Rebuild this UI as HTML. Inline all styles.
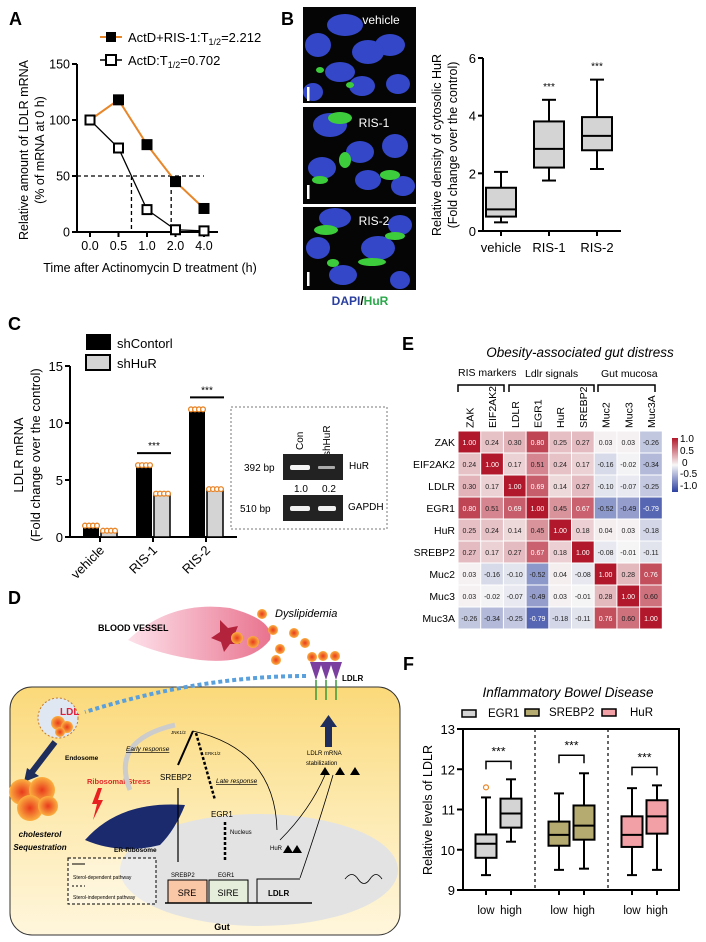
<!DOCTYPE html>
<html><head><meta charset="utf-8"><style>
html,body{margin:0;padding:0;background:#fff;}
svg{display:block;font-family:"Liberation Sans",Arial,sans-serif;}
</style></head><body>
<svg id="fig" width="706" height="942" viewBox="0 0 706 942" xmlns="http://www.w3.org/2000/svg">
<defs>
<linearGradient id="cellg" x1="0" y1="0" x2="0" y2="1"><stop offset="0" stop-color="#fbd97a"/><stop offset="0.5" stop-color="#fdeab0"/><stop offset="1" stop-color="#fff6dc"/></linearGradient>
<radialGradient id="ball" cx="0.5" cy="0.5" r="0.5"><stop offset="0" stop-color="#e83a1c"/><stop offset="1" stop-color="#fbb040"/></radialGradient>
<linearGradient id="vessel" x1="0" y1="0" x2="1" y2="0"><stop offset="0" stop-color="#fde1ea"/><stop offset="1" stop-color="#e9738f"/></linearGradient>
<linearGradient id="cb" x1="0" y1="0" x2="0" y2="1"><stop offset="0" stop-color="#b2182b"/><stop offset="0.5" stop-color="#f7f7f7"/><stop offset="1" stop-color="#2c40a0"/></linearGradient>
</defs>
<g font-weight="bold" font-size="18">
<text x="9" y="25">A</text>
<text x="281" y="25">B</text>
<text x="8" y="330">C</text>
<text x="402" y="350">E</text>
<text x="8" y="604">D</text>
<text x="403" y="670">F</text>
</g>

<g id="panelA">
<line x1="100" y1="37" x2="122" y2="37" stroke="#e8862a" stroke-width="2"/>
<rect x="106" y="32" width="10" height="10" fill="#000"/>
<text x="128" y="42" font-size="13">ActD+RIS-1:T<tspan font-size="9" dy="3">1/2</tspan><tspan dy="-3">=2.212</tspan></text>
<line x1="100" y1="60" x2="122" y2="60" stroke="#000" stroke-width="1.5"/>
<rect x="106" y="55" width="10" height="10" fill="#fff" stroke="#000" stroke-width="2"/>
<text x="128" y="65" font-size="13">ActD:T<tspan font-size="9" dy="3">1/2</tspan><tspan dy="-3">=0.702</tspan></text>
<text transform="translate(28,150) rotate(-90)" text-anchor="middle" font-size="12.5">Relative amount of LDLR mRNA</text>
<text transform="translate(44,150) rotate(-90)" text-anchor="middle" font-size="12.5">(% of mRNA at 0 h)</text>
<text x="150" y="272" text-anchor="middle" font-size="12.5">Time after Actinomycin D treatment (h)</text>
</g>

<g>
<rect x="303" y="7" width="113" height="96" fill="#050505"/>
<rect x="303" y="107" width="113" height="97" fill="#050505"/>
<rect x="303" y="207" width="113" height="83" fill="#050505"/>
<g fill="#3347c8">
<ellipse cx="345" cy="25" rx="18" ry="11"/><ellipse cx="390" cy="45" rx="15" ry="11"/><ellipse cx="368" cy="52" rx="16" ry="12"/><ellipse cx="318" cy="45" rx="13" ry="12"/>
<ellipse cx="340" cy="72" rx="15" ry="10"/><ellipse cx="362" cy="86" rx="13" ry="10"/><ellipse cx="398" cy="84" rx="12" ry="10"/><ellipse cx="313" cy="92" rx="10" ry="9"/>
<ellipse cx="330" cy="125" rx="17" ry="12"/><ellipse cx="360" cy="152" rx="14" ry="11"/><ellipse cx="395" cy="146" rx="13" ry="12"/><ellipse cx="322" cy="168" rx="14" ry="11"/><ellipse cx="368" cy="180" rx="13" ry="10"/><ellipse cx="403" cy="186" rx="12" ry="10"/>
<ellipse cx="335" cy="218" rx="16" ry="10"/><ellipse cx="378" cy="248" rx="17" ry="12"/><ellipse cx="318" cy="248" rx="12" ry="11"/><ellipse cx="343" cy="275" rx="14" ry="10"/><ellipse cx="400" cy="225" rx="12" ry="10"/><ellipse cx="400" cy="280" rx="10" ry="9"/>
</g>
<g fill="#3ccc3c">
<ellipse cx="340" cy="118" rx="12" ry="6"/><ellipse cx="345" cy="160" rx="6" ry="8"/><ellipse cx="390" cy="175" rx="10" ry="5"/><ellipse cx="320" cy="180" rx="8" ry="4"/>
<ellipse cx="326" cy="230" rx="12" ry="5"/><ellipse cx="372" cy="262" rx="14" ry="4"/><ellipse cx="395" cy="236" rx="10" ry="4"/><ellipse cx="333" cy="263" rx="6" ry="4"/>
<ellipse cx="320" cy="70" rx="4" ry="3"/><ellipse cx="350" cy="85" rx="4" ry="3"/>
</g>
<g fill="#fff" font-size="12"><text x="381" y="24" text-anchor="middle">vehicle</text><text x="374" y="127" text-anchor="middle">RIS-1</text><text x="374" y="225" text-anchor="middle">RIS-2</text></g>
<g fill="#fff"><rect x="307" y="87" width="2.5" height="14"/><rect x="307" y="185" width="2.5" height="14"/><rect x="307" y="272" width="2.5" height="14"/></g>
<text x="360" y="305" text-anchor="middle" font-size="12" font-weight="bold"><tspan fill="#2a3f9f">DAPI</tspan><tspan fill="#000">/</tspan><tspan fill="#2aa84a">HuR</tspan></text>
</g>
<g id="panelB">
<text transform="translate(441,145) rotate(-90)" text-anchor="middle" font-size="12.5">Relative density of cytosolic HuR</text>
<text transform="translate(457,145) rotate(-90)" text-anchor="middle" font-size="12.5">(Fold change over the control)</text>
</g>

<g id="panelC">
<rect x="86" y="334" width="25" height="16" fill="#000"/>
<text x="117" y="348" font-size="13">shContorl</text>
<rect x="86" y="355" width="24" height="15" fill="#d4d4d4" stroke="#000" stroke-width="2"/>
<text x="117" y="368" font-size="13">shHuR</text>
<text transform="translate(23,455) rotate(-90)" text-anchor="middle" font-size="13">LDLR mRNA</text>
<text transform="translate(40,455) rotate(-90)" text-anchor="middle" font-size="13">(Fold change over the control)</text>
</g>
<g>
<rect x="231" y="407" width="156" height="122" fill="none" stroke="#777" stroke-dasharray="2,2"/>
<text transform="translate(303,450) rotate(-90)" font-size="10">Con</text>
<text transform="translate(330,456) rotate(-90)" font-size="10">shHuR</text>
<rect x="283" y="454" width="60" height="26" fill="#222"/>
<rect x="290" y="465" width="20" height="5" fill="#f4f4f4" rx="2"/><rect x="318" y="466" width="17" height="3" fill="#aaa" rx="1"/>
<rect x="283" y="495" width="60" height="26" fill="#222"/>
<rect x="290" y="506" width="20" height="5" fill="#f0f0f0" rx="2"/><rect x="318" y="506" width="18" height="5" fill="#f0f0f0" rx="2"/>
<g font-size="10"><text x="244" y="471">392 bp</text><text x="240" y="512">510 bp</text><text x="349" y="469">HuR</text><text x="348" y="510">GAPDH</text><text x="294" y="492">1.0</text><text x="322" y="492">0.2</text></g>
</g>

<g>
<text x="580" y="357" text-anchor="middle" font-size="13.5" font-style="italic">Obesity-associated gut distress</text>
<g font-size="10.5"><text x="458" y="376">RIS markers</text><text x="525" y="377">Ldlr signals</text><text x="601" y="377">Gut mucosa</text></g>
<g fill="none" stroke="#000" stroke-width="1.5">
<path d="M458,392 V385 H504 V392"/><path d="M509,392 V385 H594 V392"/><path d="M598,392 V385 H655 V392"/>
</g>
<g id="heat"></g>
<rect x="672" y="438" width="6" height="54" fill="url(#cb)"/>
<g font-size="10"><text x="680" y="442">1.0</text><text x="680" y="454">0.5</text><text x="682" y="466">0</text><text x="680" y="477">-0.5</text><text x="680" y="489">-1.0</text></g>
</g>

<g>
<rect x="10" y="687" width="390" height="248" rx="22" fill="url(#cellg)" stroke="#333" stroke-width="1"/>
<ellipse cx="259" cy="870" rx="139" ry="56" fill="#e3e3e3"/>
<path d="M128,640 Q170,600 230,608 Q275,620 270,640 Q250,665 200,660 Q160,655 128,640 Z" fill="url(#vessel)"/>
<path d="M220,620 l8,8 l10,-2 l-4,10 l6,8 l-10,0 l-6,8 l-3,-10 l-10,-4 l9,-6 Z" fill="#b3243c"/>
<g fill="url(#ball)"><circle cx="237" cy="638" r="6"/><circle cx="253" cy="642" r="6"/><circle cx="262" cy="614" r="5"/><circle cx="273" cy="630" r="5"/><circle cx="280" cy="649" r="5"/><circle cx="294" cy="633" r="5"/><circle cx="305" cy="643" r="5"/><circle cx="276" cy="660" r="5"/><circle cx="312" cy="657" r="5"/><circle cx="323" cy="656" r="5"/><circle cx="335" cy="656" r="5"/></g>
<text x="275" y="617" font-size="11" font-style="italic">Dyslipidemia</text>
<text x="98" y="631" font-size="9" font-weight="bold">BLOOD VESSEL</text>
<g fill="#7b3fa0"><path d="M310,662 l6,18 l6,-18 Z"/><path d="M320,662 l6,18 l6,-18 Z"/><path d="M330,662 l6,18 l6,-18 Z"/></g>
<g stroke="#3a9a3a" stroke-width="1.5"><line x1="316" y1="680" x2="316" y2="700"/><line x1="326" y1="680" x2="326" y2="700"/><line x1="336" y1="680" x2="336" y2="700"/></g>
<text x="342" y="681" font-size="8" font-weight="bold">LDLR</text>
<path d="M306,676 Q200,676 85,712" fill="none" stroke="#5aa0dc" stroke-width="4" stroke-dasharray="4,3"/>
<circle cx="58" cy="718" r="20" fill="#dfe8f2" stroke="#c47a2a" stroke-dasharray="2,2"/>
<g fill="url(#ball)"><circle cx="58" cy="723" r="7"/><circle cx="67" cy="727" r="6"/><circle cx="60" cy="732" r="5"/></g>
<text x="60" y="715" font-size="10" font-weight="bold" fill="#e0203a">LDL</text>
<text x="65" y="760" font-size="6.5" font-weight="bold">Endosome</text>
<path d="M55,742 L32,772" stroke="#1e2d5c" stroke-width="6"/><path d="M24,782 l3,-14 l12,8 Z" fill="#1e2d5c"/>
<g fill="url(#ball)"><circle cx="22" cy="792" r="13"/><circle cx="42" cy="790" r="13"/><circle cx="30" cy="808" r="13"/><circle cx="48" cy="806" r="10"/></g>
<text x="40" y="837" font-size="8" font-weight="bold" font-style="italic" text-anchor="middle">cholesterol</text>
<text x="40" y="850" font-size="8" font-weight="bold" font-style="italic" text-anchor="middle">Sequestration</text>
<path d="M85,840 Q120,800 185,805 Q175,830 160,845 Q120,855 85,840 Z" fill="#1a2a6c"/>
<text x="114" y="852" font-size="6.5" font-weight="bold">ER-Ribosome</text>
<path d="M98,788 l-6,16 l5,0 l-4,16 l10,-20 l-5,0 l4,-12 Z" fill="#e82020"/>
<text x="87" y="784" font-size="7.5" font-weight="bold" fill="#e02828">Ribosomal Stress</text>
<path d="M130,790 Q110,740 175,725" fill="none" stroke="#ccc" stroke-width="5"/>
<text x="160" y="780" font-size="8">SREBP2</text>
<text x="211" y="817" font-size="8">EGR1</text>
<text x="171" y="734" font-size="4.5">JNK1/2</text>
<text x="126" y="751" font-size="6.5" font-style="italic" text-decoration="underline">Early response</text>
<text x="216" y="783" font-size="6.5" font-style="italic" text-decoration="underline">Late response</text>
<text x="205" y="755" font-size="4.5">ERK1/2</text>
<path d="M193,731 L178,765" stroke="#000" stroke-width="2"/>
<path d="M196,733 L215,800" stroke="#000" stroke-width="2.5" stroke-dasharray="3,2"/>
<path d="M178,788 V862" stroke="#000" stroke-width="1.2"/>
<path d="M225,822 V862" stroke="#000" stroke-width="2.5" stroke-dasharray="3,2"/>
<path d="M193,731 Q275,750 277,830" fill="none" stroke="#000" stroke-width="0.8"/>
<text x="230" y="834" font-size="6">Nucleus</text>
<text x="270" y="850" font-size="6">HuR</text>
<path d="M283,853 l5,-8 l5,8 Z M292,853 l5,-8 l5,8 Z"/>
<path d="M280,840 Q310,810 325,775" fill="none" stroke="#000" stroke-width="0.8"/>
<path d="M300,878 Q320,820 333,775" fill="none" stroke="#000" stroke-width="0.8"/>
<text x="307" y="755" font-size="6">LDLR mRNA</text>
<text x="306" y="765" font-size="6">stabilization</text>
<path d="M320,775 l5,-8 l5,8 Z M335,775 l5,-8 l5,8 Z M350,775 l5,-8 l5,8 Z"/>
<rect x="325" y="725" width="7" height="22" fill="#1e2d5c"/><path d="M320,727 l8.5,-12 l8.5,12 Z" fill="#1e2d5c"/>
<rect x="68" y="858" width="88" height="46" fill="#fff" fill-opacity="0.3" stroke="#000" stroke-dasharray="3,2"/>
<line x1="72" y1="864" x2="85" y2="864" stroke="#000"/><text x="73" y="879" font-size="5">Sterol-dependent pathway</text>
<line x1="72" y1="886" x2="85" y2="886" stroke="#000" stroke-dasharray="2,2"/><text x="73" y="899" font-size="5">Sterol-independent pathway</text>
<rect x="168" y="880" width="39" height="23" fill="#f9c6a6" stroke="#000"/><text x="187" y="896" font-size="9" text-anchor="middle">SRE</text>
<rect x="209" y="880" width="39" height="23" fill="#e4eedb" stroke="#000"/><text x="228" y="896" font-size="9" text-anchor="middle">SIRE</text>
<text x="171" y="877" font-size="6">SREBP2</text><text x="218" y="877" font-size="6">EGR1</text>
<path d="M257,903 V879 H300" fill="none" stroke="#000"/><text x="268" y="896" font-size="8" font-weight="bold">LDLR</text>
<line x1="165" y1="903" x2="312" y2="903" stroke="#000" stroke-width="1.5"/>
<path d="M345,879 Q352,870 358,879 Q364,888 370,879 Q376,870 382,879" fill="none" stroke="#000" stroke-width="0.8"/>
<text x="222" y="930" font-size="9" font-weight="bold" text-anchor="middle">Gut</text>
</g>

<g>
<text x="568" y="697" text-anchor="middle" font-size="13.5" font-style="italic">Inflammatory Bowel Disease</text>
<rect x="462" y="710" width="14" height="7" fill="#d4d4d4" stroke="#000" stroke-width="1.5"/><text x="488" y="717" font-size="11.5">EGR1</text>
<rect x="525" y="709" width="14" height="7" fill="#b5aa6f" stroke="#000" stroke-width="1.5"/><text x="549" y="716" font-size="11.5">SREBP2</text>
<rect x="602" y="709" width="14" height="7" fill="#f2a0a6" stroke="#000" stroke-width="1.5"/><text x="630" y="716" font-size="11.5">HuR</text>
<text transform="translate(432,810) rotate(-90)" text-anchor="middle" font-size="12.5">Relative levels of LDLR</text>
<rect x="463" y="729" width="216" height="161" fill="none" stroke="#000" stroke-width="2"/>
<line x1="535" y1="729" x2="535" y2="890" stroke="#000" stroke-width="1.2" stroke-dasharray="3,3"/>
<line x1="608" y1="729" x2="608" y2="890" stroke="#000" stroke-width="1.2" stroke-dasharray="3,3"/>
</g>
<g id="dyn"></g>
</svg>
<script>
var NS='http://www.w3.org/2000/svg';
// ---- Panel A data
var aCategories=['0.0','0.5','1.0','2.0','4.0'];
var aRis1=[100,118,78,45,21];
var aActD=[100,75,20,2,1];
var aYTicks=[0,50,100,150];
var aHalfLife=50;
// ---- Panel B data
var bCategories=['vehicle','RIS-1','RIS-2'];
var bMin=[0.3,1.75,2.15];
var bQ1=[0.5,2.2,2.8];
var bMed=[0.75,2.85,3.3];
var bQ3=[1.5,3.8,3.95];
var bMax=[2.05,4.55,5.25];
var bYTicks=[0,2,4,6];
// ---- Panel C data
var cCategories=['vehicle','RIS-1','RIS-2'];
var cShControl=[1.0,6.3,11.2];
var cShHuR=[0.55,3.8,4.2];
var cYTicks=[0,5,10,15];
// ---- Panel E data
var eLabels=['ZAK','EIF2AK2','LDLR','EGR1','HuR','SREBP2','Muc2','Muc3','Muc3A'];
var eRow0=[1.00,0.24,0.30,0.80,0.25,0.27,0.03,0.03,-0.26];
var eRow1=[0.24,1.00,0.17,0.51,0.24,0.17,-0.16,-0.02,-0.34];
var eRow2=[0.30,0.17,1.00,0.69,0.14,0.27,-0.10,-0.07,-0.25];
var eRow3=[0.80,0.51,0.69,1.00,0.45,0.67,-0.52,-0.49,-0.79];
var eRow4=[0.25,0.24,0.14,0.45,1.00,0.18,0.04,0.03,-0.18];
var eRow5=[0.27,0.17,0.27,0.67,0.18,1.00,-0.08,-0.01,-0.11];
var eRow6=[0.03,-0.16,-0.10,-0.52,0.04,-0.08,1.00,0.28,0.76];
var eRow7=[0.03,-0.02,-0.07,-0.49,0.03,-0.01,0.28,1.00,0.60];
var eRow8=[-0.26,-0.34,-0.25,-0.79,-0.18,-0.11,0.76,0.60,1.00];
// ---- Panel F data
var fGenes=['EGR1','SREBP2','HuR'];
var fGroups=['low','high'];
var fMin=[9.37,10.2,9.5,9.53,9.37,9.5];
var fQ1=[9.8,10.55,10.1,10.25,10.07,10.4];
var fMed=[10.15,10.9,10.37,10.6,10.37,10.83];
var fQ3=[10.38,11.27,10.7,11.1,10.83,11.23];
var fMax=[11.3,11.75,11.4,11.9,11.53,11.6];
var fOutlier=[11.55];
var fYTicks=[9,10,11,12,13];

var root=document.getElementById('dyn');
function mk(tag,parent){var e=document.createElementNS(NS,tag);(parent||root).appendChild(e);return e;}
function at(e,o){for(var k in o)e.setAttribute(k,o[k]);return e;}
function txt(x,y,s,size,anchor){var t=mk('text');at(t,{x:x,y:y,'font-size':size,'text-anchor':anchor||'middle'});t.textContent=s;return t;}
function ln(x1,y1,x2,y2,w,c,dash){var l=mk('line');at(l,{x1:x1,y1:y1,x2:x2,y2:y2,stroke:c||'#000','stroke-width':w||1});if(dash)l.setAttribute('stroke-dasharray',dash);return l;}

// ===== Panel A
var axA=77,yA0=232,yATop=64;
function xA(i){return 90+i*28.5;}
function yA(v){return yA0-v*(yA0-yATop)/150;}
var e=ln(axA,yATop,axA,yA0,2);


e=ln(axA,yA0,218,yA0,2);


aYTicks.forEach(function(v){ln(axA-5,yA(v),axA,yA(v),2);var t=txt(axA-7,yA(v)+4.5,String(v),12.5,'end');

});
aCategories.forEach(function(c,i){ln(xA(i),yA0,xA(i),yA0+5,2);var t=txt(xA(i),yA0+18,c,12.5);

});
ln(axA,yA(aHalfLife),xA(4),yA(aHalfLife),1.3,'#000','4,3');
function crossX(arr){for(var i=0;i<arr.length-1;i++){if(arr[i]>=aHalfLife&&arr[i+1]<aHalfLife){var f=(arr[i]-aHalfLife)/(arr[i]-arr[i+1]);return xA(i)+f*(xA(i+1)-xA(i));}}return xA(0);}
ln(crossX(aActD),yA(aHalfLife),crossX(aActD),yA0,1.3,'#000','4,3');
ln(crossX(aRis1),yA(aHalfLife),crossX(aRis1),yA0,1.3,'#000','4,3');
var pA1=mk('polyline');at(pA1,{fill:'none',stroke:'#e8862a','stroke-width':2,points:aRis1.map(function(v,i){return xA(i)+','+yA(v);}).join(' ')});


var pA2=mk('polyline');at(pA2,{fill:'none',stroke:'#000','stroke-width':1.3,points:aActD.map(function(v,i){return xA(i)+','+yA(v);}).join(' ')});


aRis1.forEach(function(v,i){var r=mk('rect');at(r,{x:xA(i)-5.5,y:yA(v)-5.5,width:11,height:11,fill:'#000'});

});
aActD.forEach(function(v,i){var r=mk('rect');at(r,{x:xA(i)-4.5,y:yA(v)-4.5,width:9,height:9,fill:'#fff',stroke:'#000','stroke-width':2});

});

// ===== Panel B
var axB=483,yB0=231,yBTop=58;
function yB(v){return yB0-v*(yB0-yBTop)/6;}
function xB(i){return 501+i*48;}
e=ln(axB,yBTop,axB,yB0,2);


e=ln(axB,yB0,621,yB0,2);


bYTicks.forEach(function(v){ln(axB-5,yB(v),axB,yB(v),2);var t=txt(axB-7,yB(v)+5,String(v),13,'end');

});
bCategories.forEach(function(c,i){var x=xB(i);ln(x,yB0,x,yB0+5,2);
var t=txt(x,yB0+21,c,13);


ln(x,yB(bMin[i]),x,yB(bQ1[i]),2);ln(x,yB(bQ3[i]),x,yB(bMax[i]),2);
ln(x-7,yB(bMin[i]),x+7,yB(bMin[i]),2);ln(x-7,yB(bMax[i]),x+7,yB(bMax[i]),2);
var r=mk('rect');at(r,{x:x-15,y:yB(bQ3[i]),width:30,height:yB(bQ1[i])-yB(bQ3[i]),fill:'#d4d4d4',stroke:'#000','stroke-width':2});


ln(x-15,yB(bMed[i]),x+15,yB(bMed[i]),2);
if(i>0){var s=txt(x,yB(bMax[i])-10,'***',10);

}
});

// ===== Panel C
var axC=70,yC0=537,yCTop=366;
function yC(v){return yC0-v*(yC0-yCTop)/15;}
function xC(i){return 101+i*53;}
e=ln(axC,yCTop,axC,yC0,2);


e=ln(axC,yC0,237,yC0,2);


cYTicks.forEach(function(v){ln(axC-5,yC(v),axC,yC(v),2);var t=txt(axC-7,yC(v)+5,String(v),13,'end');

});
function dots(x0,w,v){for(var k=0;k<4;k++){var c=mk('circle');at(c,{cx:x0+w*(k+0.5)/4,cy:yC(v),r:2.4,fill:'#fff',stroke:'#e8862a','stroke-width':1.3});}}
cCategories.forEach(function(c,i){var x=xC(i);
var b1=mk('rect');at(b1,{x:x-18,y:yC(cShControl[i]),width:16,height:yC0-yC(cShControl[i]),fill:'#000'});


var b2=mk('rect');at(b2,{x:x,y:yC(cShHuR[i]),width:16,height:yC0-yC(cShHuR[i]),fill:'#d4d4d4',stroke:'#000','stroke-width':1.5});


dots(x-18,16,cShControl[i]);dots(x,16,cShHuR[i]);
ln(x-1,yC0,x-1,yC0+5,2);
var t=mk('text');at(t,{transform:'translate('+(x+4)+','+(yC0+14)+') rotate(-45)','font-size':13,'text-anchor':'end'});t.textContent=c;


if(i>0){var top=yC(cShControl[i])-12;ln(x-17,top,x+17,top,2);var s=txt(x,top-4,'***',10);

}
});

// ===== Panel E heatmap
var heat=document.getElementById('heat');
var eRows=[eRow0,eRow1,eRow2,eRow3,eRow4,eRow5,eRow6,eRow7,eRow8];
var gx=458,gy=431,cw=22.7,ch=22;
function mix(a,b,t){return Math.round(a+(b-a)*t);}
function heatColor(v){var w=[247,247,247],r=[178,24,43],bl=[44,64,160];var c=v>=0?r:bl,t=Math.min(1,Math.abs(v));
return 'rgb('+mix(w[0],c[0],t)+','+mix(w[1],c[1],t)+','+mix(w[2],c[2],t)+')';}
eLabels.forEach(function(l,j){var t=mk('text',heat);at(t,{transform:'translate('+(gx+cw*(j+0.5)+4)+',428) rotate(-90)','font-size':10.5});t.textContent=l;


var t2=mk('text',heat);at(t2,{x:gx-3,y:gy+ch*(j+0.5)+4,'font-size':10.5,'text-anchor':'end'});t2.textContent=l;

});
eRows.forEach(function(row,i){row.forEach(function(v,j){
var r=mk('rect',heat);at(r,{x:gx+cw*j+0.5,y:gy+ch*i+0.5,width:cw-1,height:ch-1,fill:heatColor(v)});


var t=mk('text',heat);at(t,{x:gx+cw*(j+0.5),y:gy+ch*(i+0.5)+3,'font-size':7,'text-anchor':'middle',fill:Math.abs(v)>0.6?'#fff':'#222'});t.textContent=v.toFixed(2);


});});

// ===== Panel F
var axF=463,yF0=890,yFTop=729;
function yF(v){return yFTop+(13-v)*(yF0-yFTop)/4;}
function xF(k){var g=Math.floor(k/2),h=k%2;return 486+g*73+h*25;}
var fColors=['#d4d4d4','#b5aa6f','#f2a0a6'];
fYTicks.forEach(function(v){ln(axF-6,yF(v),axF,yF(v),2);var t=txt(axF-8,yF(v)+5,String(v),13,'end');

});
fMin.forEach(function(mn,k){var x=xF(k),g=Math.floor(k/2);
ln(x,yF(fMin[k]),x,yF(fQ1[k]),2);ln(x,yF(fQ3[k]),x,yF(fMax[k]),2);
ln(x-5,yF(fMin[k]),x+5,yF(fMin[k]),2);ln(x-5,yF(fMax[k]),x+5,yF(fMax[k]),2);
var r=mk('rect');at(r,{x:x-10.5,y:yF(fQ3[k]),width:21,height:yF(fQ1[k])-yF(fQ3[k]),fill:fColors[g],stroke:'#000','stroke-width':2});


ln(x-10.5,yF(fMed[k]),x+10.5,yF(fMed[k]),2);
ln(x,yF0,x,yF0+5,2);
var t=txt(x,yF0+24,fGroups[k%2],11.5);


if(k%2===1){var top=Math.min(yF(fMax[k-1]),yF(fMax[k]))-18;
var p=mk('path');at(p,{d:'M'+xF(k-1)+','+(top+8)+' V'+top+' H'+x+' V'+(top+8),fill:'none',stroke:'#000','stroke-width':1.5});
var s=txt((xF(k-1)+x)/2,top-6,'***',12);

}
});
fOutlier.forEach(function(v){var c=mk('circle');at(c,{cx:xF(0),cy:yF(v),r:2.5,fill:'none',stroke:'#e8862a','stroke-width':1.2});

});
</script>
</body></html>
